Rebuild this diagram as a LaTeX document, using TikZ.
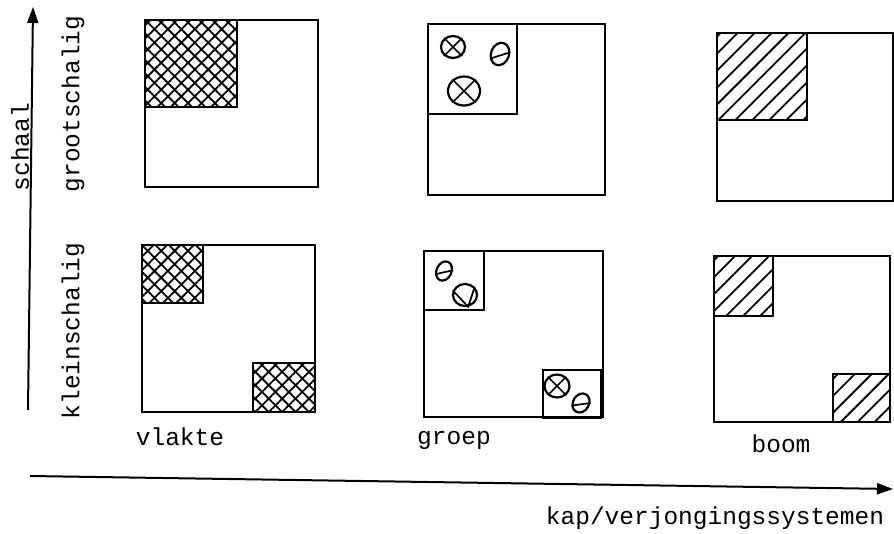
\documentclass[tikz,border=0pt]{standalone}
\usepackage{fontspec}
\setmonofont{Liberation Mono}
\usetikzlibrary{arrows.meta, patterns.meta, shapes.geometric}

\begin{document}
\begin{tikzpicture}[x=1pt, y=-1pt,
  perceel/.style={draw, line width=2.3pt},
  vlak/.style={draw, line width=2.3pt, pattern={Hatch[angle=45, distance=9.5pt, line width=1.8pt]}},
  strook/.style={draw, line width=2.3pt, pattern={Lines[angle=45, distance=12pt, line width=1.8pt]}},
  gat/.style={draw, line width=2.3pt},
  kroon/.style={draw, ellipse, line width=2.2pt, inner sep=0pt},
  kruis/.style={line width=1.7pt},
  tekst/.style={font=\ttfamily\fontsize{24.5}{24.5}\selectfont, inner sep=0pt},
  as/.style={line width=2pt, -{Triangle[length=16pt, width=11pt]}}
]
  \useasboundingbox (0,0) rectangle (894,533);

  % assen
  \coordinate (xbegin) at (30,476);
  \coordinate (xeind) at (893,489);
  \coordinate (ybegin) at (28,410);
  \coordinate (yeind) at (33,7);
  \draw[as] (xbegin) -- (xeind);
  \draw[as] (ybegin) -- (yeind);
  \node[tekst, rotate=90] (schaal) at (20,147) {schaal};
  \node[tekst, rotate=90] (groot) at (73,104) {grootschalig};
  \node[tekst, rotate=90] (klein) at (73,331) {kleinschalig};
  \node[tekst] (systemen) at (715,518) {kap/verjongingssystemen};

  % vlakte
  \draw[perceel] (145,20) rectangle (318,187);
  \draw[vlak] (145,20) rectangle (237,107);
  \draw[perceel] (142,245) rectangle (315,412);
  \draw[vlak] (142,245) rectangle (203,303);
  \draw[vlak] (253,363) rectangle (315,412);
  \node[tekst] (vlakte) at (180,437) {vlakte};

  % groep
  \draw[perceel] (428,24) rectangle (605,195);
  \draw[gat] (428,24) rectangle (517,114);
  \node[kroon, minimum width=24pt, minimum height=22pt] (k1) at (453,47) {};
  \draw[kruis] (k1.45) -- (k1.225) (k1.135) -- (k1.315);
  \node[kroon, minimum width=18pt, minimum height=23pt, rotate=-20] (k2) at (500,54) {};
  \draw[kruis] (k2.30) -- (k2.225);
  \node[kroon, minimum width=32pt, minimum height=29pt] (k3) at (464,91) {};
  \draw[kruis] (k3.45) -- (k3.225) (k3.135) -- (k3.315);
  \draw[perceel] (424,251) rectangle (603,417);
  \draw[gat] (424,251) rectangle (484,310);
  \draw[gat] (543,370) rectangle (601,418);
  \node[kroon, minimum width=15pt, minimum height=20pt, rotate=-25] (k4) at (444,271) {};
  \draw[kruis] (k4.30) -- (k4.225);
  \node[kroon, minimum width=24pt, minimum height=22pt] (k5) at (465,295) {};
  \draw[kruis] (k5.160) -- (k5.285) -- (k5.40);
  \node[kroon, minimum width=25pt, minimum height=23pt] (k6) at (557,386) {};
  \draw[kruis] (k6.45) -- (k6.225) (k6.135) -- (k6.315);
  \node[kroon, minimum width=16pt, minimum height=20pt, rotate=-30] (k7) at (581,403) {};
  \draw[kruis] (k7.30) -- (k7.225);
  \node[tekst] (groep) at (454,440) {groep};

  % boom
  \draw[perceel] (717,33) rectangle (893,201);
  \draw[strook] (717,33) rectangle (807,120);
  \draw[perceel] (714,256) rectangle (890,422);
  \draw[strook] (714,256) rectangle (773,316);
  \draw[strook] (833,374) rectangle (890,422);
  \node[tekst] (boom) at (781,444) {boom};
\end{tikzpicture}
\end{document}
